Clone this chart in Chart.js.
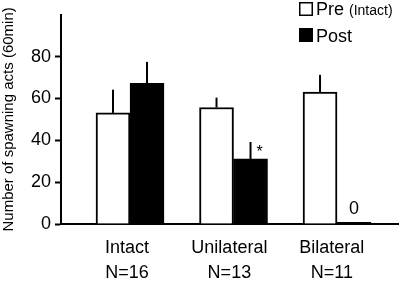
<!DOCTYPE html>
<html>
<head>
<meta charset="utf-8">
<script src="https://cdn.jsdelivr.net/npm/chart.js@4/dist/chart.umd.min.js"></script>
<style>
  body { margin: 0; background: #fff; }
  #wrap { width: 401px; height: 285px; }
</style>
</head>
<body>
<div id="wrap"><canvas id="chart" width="401" height="285"></canvas></div>
<script>
"use strict";

const groups = [['Intact', 'N=16'], ['Unilateral', 'N=13'], ['Bilateral', 'N=11']];
const preValues = [53.1, 55.7, 63.1];
const preErrors = [11.1, 4.7, 8.2];
const postValues = [67.2, 31.1, 0.8];
const postErrors = [10.3, 8.1, 0];
const yTicks = [0, 20, 40, 60, 80];

const FONT = "'Liberation Sans', Arial, sans-serif";

const toPoints = values => values.map((v, i) => ({ x: i, y: v }));

// whiskers (upward only), significance marks and the hand-made legend
const extras = {
    id: 'extras',
    afterDatasetsDraw(chart) {
        const { ctx, scales: { y } } = chart;
        const errs = [preErrors, postErrors];
        const vals = [preValues, postValues];
        ctx.save();
        ctx.strokeStyle = '#000';
        ctx.lineWidth = 2;
        for (let d = 0; d < 2; d++) {
            const meta = chart.getDatasetMeta(d);
            meta.data.forEach((bar, i) => {
                if (!errs[d][i]) return;
                ctx.beginPath();
                ctx.moveTo(bar.x, y.getPixelForValue(vals[d][i]));
                ctx.lineTo(bar.x, y.getPixelForValue(vals[d][i] + errs[d][i]));
                ctx.stroke();
            });
        }

        const post = chart.getDatasetMeta(1).data;
        ctx.fillStyle = '#000';
        ctx.font = '16px ' + FONT;
        ctx.textAlign = 'left';
        ctx.textBaseline = 'middle';
        ctx.fillText('*', post[1].x + 6, y.getPixelForValue(postValues[1] + postErrors[1]) + 11);

        ctx.font = '18px ' + FONT;
        ctx.textAlign = 'center';
        ctx.textBaseline = 'alphabetic';
        ctx.fillText('0', post[2].x, y.getPixelForValue(0) - 10);
        ctx.restore();
    },
    afterDraw(chart) {
        const { ctx } = chart;
        ctx.save();
        ctx.lineWidth = 1.5;
        ctx.strokeStyle = '#000';
        ctx.fillStyle = '#fff';
        ctx.fillRect(299.75, 2.75, 12.5, 12.5);
        ctx.strokeRect(299.75, 2.75, 12.5, 12.5);
        ctx.fillStyle = '#000';
        ctx.fillRect(299, 28, 14, 14);

        ctx.textAlign = 'left';
        ctx.textBaseline = 'alphabetic';
        ctx.font = '18px ' + FONT;
        ctx.fillText('Pre', 316, 15);
        const w = ctx.measureText('Pre ').width;
        ctx.font = '14px ' + FONT;
        ctx.fillText('(Intact)', 316 + w, 15);
        ctx.font = '18px ' + FONT;
        ctx.fillText('Post', 316, 42);
        ctx.restore();
    }
};

const ctx = document.getElementById('chart').getContext('2d');
const chart = new Chart(ctx, {
    type: 'bar',
    data: {
        datasets: [{
            label: 'Pre (Intact)',
            data: toPoints(preValues),
            backgroundColor: '#fff',
            borderColor: '#000',
            borderWidth: 2
        }, {
            label: 'Post',
            data: toPoints(postValues),
            backgroundColor: '#000',
            borderColor: '#000',
            borderWidth: 2
        }]
    },
    options: {
        responsive: false,
        animation: false,
        barThickness: 34,
        layout: { padding: { left: 0, top: 4, right: 3, bottom: 0 } },
        scales: {
            x: {
                type: 'linear',
                offset: false,
                bounds: 'data',
                min: -0.6667,
                max: 2.589,
                grid: { display: false, drawTicks: false, offset: false },
                border: { color: '#000', width: 2 },
                afterBuildTicks: scale => {
                    // labels sit a little left of the bar pairs in the original
                    scale.ticks = groups.map((g, i) => ({ value: i - 0.03 - 0.01 * i }));
                },
                afterFit: scale => { scale.height = 61; },
                ticks: {
                    autoSkip: false,
                    maxRotation: 0,
                    padding: 12,
                    color: '#000',
                    font: { family: FONT, size: 18, lineHeight: 1.39 },
                    callback: (v, i) => groups[i] || ''
                }
            },
            y: {
                min: 0,
                max: 100,
                grid: {
                    drawOnChartArea: false,
                    drawTicks: true,
                    tickLength: 6,
                    tickColor: '#000',
                    tickWidth: 2
                },
                border: { color: '#000', width: 2 },
                afterBuildTicks: scale => {
                    scale.ticks = yTicks.map(v => ({ value: v }));
                },
                afterFit: scale => { scale.width = 61; },
                ticks: {
                    padding: 4,
                    color: '#000',
                    font: { family: FONT, size: 18 }
                },
                title: {
                    display: true,
                    text: 'Number of spawning acts (60min)',
                    color: '#000',
                    padding: { top: 0, bottom: 0 },
                    font: { family: FONT, size: 15 }
                }
            }
        },
        plugins: {
            legend: { display: false },
            tooltip: { enabled: false }
        }
    },
    plugins: [extras]
});
</script>
</body>
</html>
